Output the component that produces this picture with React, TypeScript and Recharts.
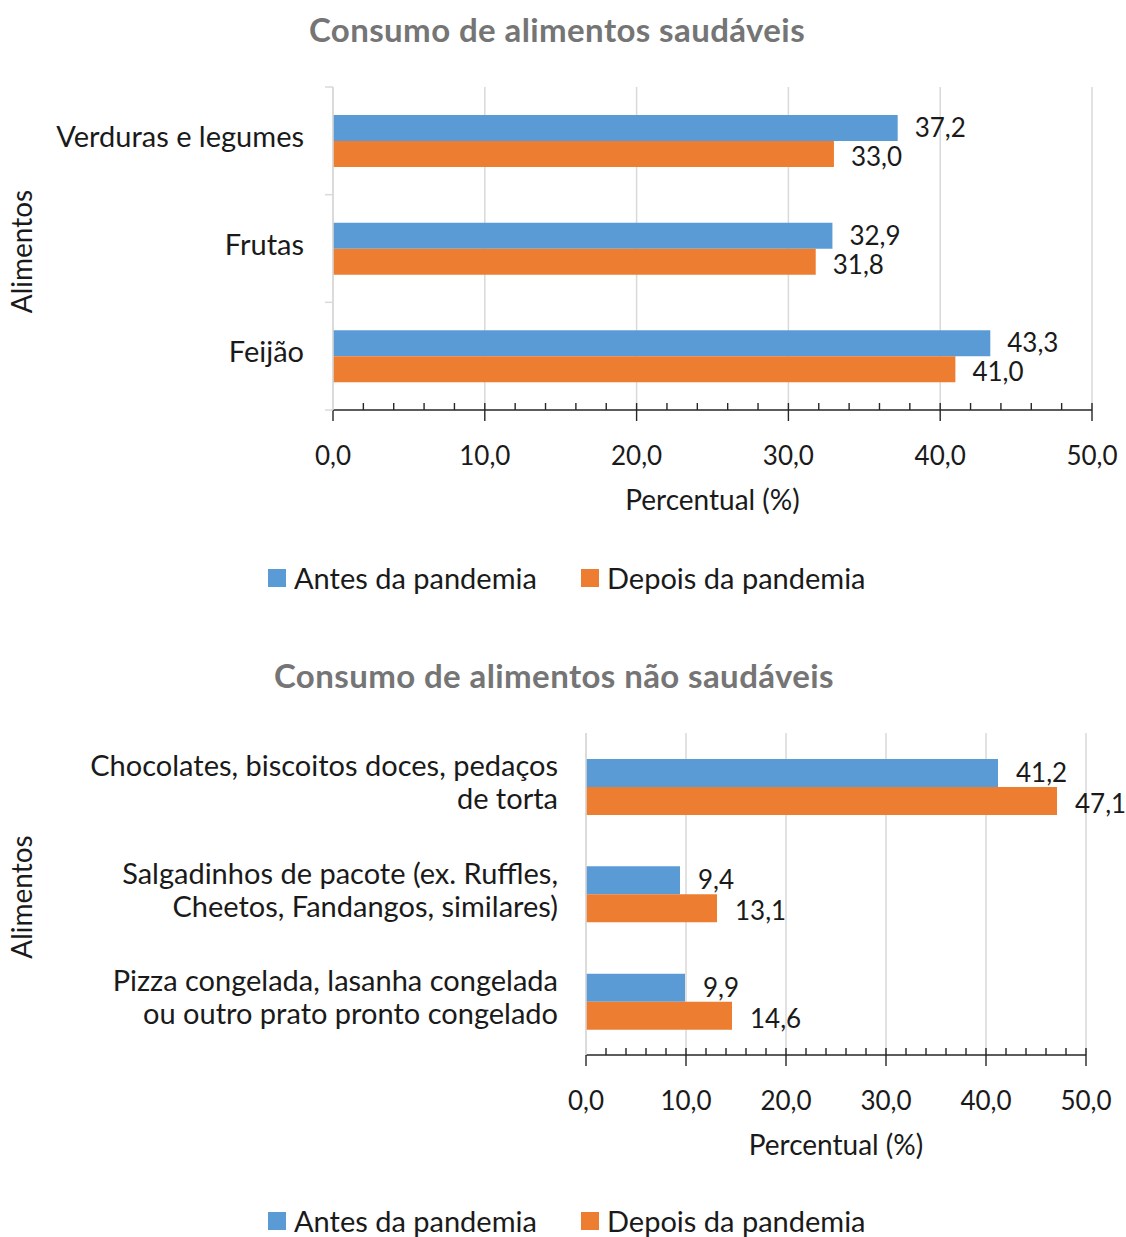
import React from "react";
import { Bar, BarChart, CartesianGrid, Label, LabelList, XAxis, YAxis } from "recharts";

const healthyCategories = ["Verduras e legumes", "Frutas", "Feijão"];
const healthyBefore = [37.2, 32.9, 43.3];
const healthyAfter = [33.0, 31.8, 41.0];

const unhealthyCategories = [
  "Chocolates, biscoitos doces, pedaços\nde torta",
  "Salgadinhos de pacote (ex. Ruffles,\nCheetos, Fandangos, similares)",
  "Pizza congelada, lasanha congelada\nou outro prato pronto congelado",
];
const unhealthyBefore = [41.2, 9.4, 9.9];
const unhealthyAfter = [47.1, 13.1, 14.6];

const seriesNames = ["Antes da pandemia", "Depois da pandemia"];
const xTicks = [0, 2, 4, 6, 8, 10, 12, 14, 16, 18, 20, 22, 24, 26, 28, 30, 32, 34, 36, 38, 40, 42, 44, 46, 48, 50];
const gridValues = [0, 10, 20, 30, 40, 50];

const BLUE = "#5b9bd5";
const ORANGE = "#ed7d31";
const FONT = "Lato, 'Noto Sans', sans-serif";
const TEXT = "#1a1a1a";
const GRID = "#d9d9d9";

const fmt = (v: number) => v.toFixed(1).replace(".", ",");

function buildRows(categories: string[], before: number[], after: number[]) {
  return categories.map((name, i) => ({ name, antes: before[i], depois: after[i] }));
}

function XTick(props: any) {
  const { x, y, payload } = props;
  const v = payload.value as number;
  const major = v % 10 === 0;
  return (
    <g>
      <line
        x1={x}
        x2={x}
        y1={major && v === 0 ? y : y - 7}
        y2={major ? y + 11 : y}
        stroke="#262626"
        strokeWidth={1.4}
      />
      {major && (
        <text x={x} y={y + 55} textAnchor="middle" fontFamily={FONT} fontSize={26} fill={TEXT}>
          {fmt(v)}
        </text>
      )}
    </g>
  );
}

function makeYTick(halfBand: number, gap: number, boundaries: boolean) {
  return (props: any) => {
    const { x, y, payload, index } = props;
    const lines = String(payload.value).split("\n");
    return (
      <g>
        {boundaries && <line x1={x - 8} x2={x} y1={y - halfBand} y2={y - halfBand} stroke={GRID} strokeWidth={1.5} />}
        {boundaries && index === 2 && (
          <line x1={x - 8} x2={x} y1={y + halfBand} y2={y + halfBand} stroke={GRID} strokeWidth={1.5} />
        )}
        <text textAnchor="end" fontFamily={FONT} fontSize={29} fill={TEXT}>
          {lines.map((line, i) => (
            <tspan key={i} x={x - gap} y={y + 6 + (i - (lines.length - 1) / 2) * 33}>
              {line}
            </tspan>
          ))}
        </text>
      </g>
    );
  };
}

function valueLabel(offset: number, dy: number) {
  return (props: any) => {
    const { x, y, width, height, value } = props;
    return (
      <text x={x + width + offset} y={y + height / 2 + dy} fontFamily={FONT} fontSize={26} fill={TEXT}>
        {fmt(Number(value))}
      </text>
    );
  };
}

function axisTitle(props: any) {
  const vb = props.viewBox;
  return (
    <text x={vb.x + vb.width / 2} y={vb.y + 100} textAnchor="middle" fontFamily={FONT} fontSize={28} fill={TEXT}>
      Percentual (%)
    </text>
  );
}

function sideTitle(props: any) {
  const vb = props.viewBox;
  const cx = vb.x + 32;
  const cy = vb.y + vb.height / 2 + 3;
  return (
    <text x={cx} y={cy} transform={`rotate(-90 ${cx} ${cy})`} textAnchor="middle" fontFamily={FONT} fontSize={28} fill={TEXT}>
      Alimentos
    </text>
  );
}

function Legend({ top, left }: { top: number; left: number }) {
  const colors = [BLUE, ORANGE];
  return (
    <>
      {seriesNames.map((name, i) => (
        <div
          key={name}
          style={{
            position: "absolute",
            top,
            left: left + i * 313,
            display: "flex",
            alignItems: "center",
            fontFamily: FONT,
            fontSize: 29,
            lineHeight: "30px",
            color: TEXT,
            whiteSpace: "nowrap",
          }}
        >
          <span style={{ width: 18, height: 18, background: colors[i], marginRight: 8 }} />
          {name}
        </div>
      ))}
    </>
  );
}

function Title({ text, top, center }: { text: string; top: number; center: number }) {
  return (
    <div
      style={{
        position: "absolute",
        top,
        left: 0,
        width: center * 2,
        textAlign: "center",
        fontFamily: FONT,
        fontWeight: 700,
        fontSize: 33,
        letterSpacing: 0.4,
        lineHeight: "34px",
        color: "#757575",
        whiteSpace: "nowrap",
      }}
    >
      {text}
    </div>
  );
}

interface PanelProps {
  rows: { name: string; antes: number; depois: number }[];
  height: number;
  marginTop: number;
  marginRight: number;
  yWidth: number;
  barSize: number;
  labelGap: number;
  valueOffset: number;
  boundaries: boolean;
}

function Panel({ rows, height, marginTop, marginRight, yWidth, barSize, labelGap, valueOffset, boundaries }: PanelProps) {
  const xHeight = 120;
  const halfBand = (height - marginTop - xHeight) / rows.length / 2;
  return (
    <BarChart
      width={1126}
      height={height}
      data={rows}
      layout="vertical"
      barGap={0}
      barSize={barSize}
      margin={{ top: marginTop, right: marginRight, bottom: 0, left: 0 }}
    >
      <CartesianGrid horizontal={false} verticalValues={gridValues} stroke={GRID} strokeWidth={1.5} />
      <XAxis
        type="number"
        domain={[0, 50]}
        ticks={xTicks}
        interval={0}
        height={xHeight}
        tickSize={0}
        tickMargin={0}
        tickLine={false}
        axisLine={{ stroke: "#262626", strokeWidth: 1.4 }}
        tick={<XTick />}
      >
        <Label content={axisTitle} />
      </XAxis>
      <YAxis
        type="category"
        dataKey="name"
        width={yWidth}
        tickSize={0}
        tickMargin={0}
        tickLine={false}
        interval={0}
        axisLine={{ stroke: GRID, strokeWidth: 1.5 }}
        tick={makeYTick(halfBand, labelGap, boundaries)}
      >
        <Label content={sideTitle} />
      </YAxis>
      <Bar dataKey="antes" name={seriesNames[0]} fill={BLUE} isAnimationActive={false}>
        <LabelList dataKey="antes" content={valueLabel(valueOffset, 9)} />
      </Bar>
      <Bar dataKey="depois" name={seriesNames[1]} fill={ORANGE} isAnimationActive={false}>
        <LabelList dataKey="depois" content={valueLabel(valueOffset, 12)} />
      </Bar>
    </BarChart>
  );
}

export default function App() {
  const healthyRows = buildRows(healthyCategories, healthyBefore, healthyAfter);
  const unhealthyRows = buildRows(unhealthyCategories, unhealthyBefore, unhealthyAfter);
  return (
    <div style={{ position: "absolute", left: 0, top: 0, width: 1126, height: 1237, background: "#fff" }}>
      <Title text="Consumo de alimentos saudáveis" top={12} center={557} />
      <div style={{ position: "absolute", left: 0, top: 0 }}>
        <Panel
          rows={healthyRows}
          height={530}
          marginTop={87}
          marginRight={34}
          yWidth={333}
          barSize={26}
          labelGap={29}
          valueOffset={17}
          boundaries
        />
      </div>
      <Legend top={563} left={268} />

      <Title text="Consumo de alimentos não saudáveis" top={658} center={554} />
      <div style={{ position: "absolute", left: 0, top: 620 }}>
        <Panel
          rows={unhealthyRows}
          height={555}
          marginTop={113}
          marginRight={40}
          yWidth={586}
          barSize={28}
          labelGap={28}
          valueOffset={18}
          boundaries={false}
        />
      </div>
      <Legend top={1206} left={268} />
    </div>
  );
}
